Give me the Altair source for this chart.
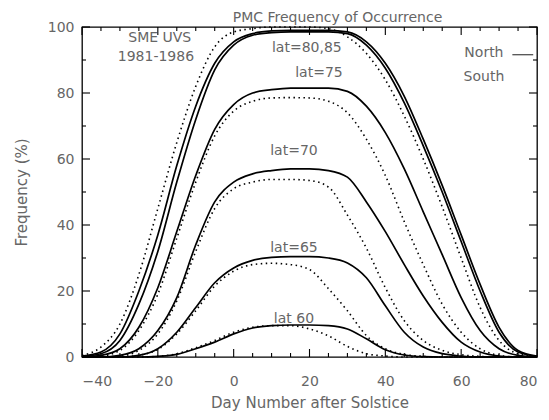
import altair as alt
import pandas as pd

# ---------------- data ----------------
days = [-40, -35, -30, -25, -20, -15, -10, -5, 0, 5, 10, 15, 20, 25,
        30, 35, 40, 45, 50, 55, 60, 65, 70, 75, 80]

north_85 = [0.3, 1.5, 7, 20, 37, 58, 76, 89, 95.5, 98, 98.8, 99, 99, 99,
            98.5, 95.5, 89, 79, 66, 52, 37, 22, 9, 2, 0.3]
north_80 = [0.2, 1, 5, 16, 32, 53, 72, 87, 94.5, 97.5, 98.3, 98.5, 98.5, 98.5,
            98, 94.5, 87.5, 77, 64, 50, 35, 20, 7.5, 1.5, 0.2]
south_85 = [0.5, 3, 10, 25, 45, 65, 82, 94, 98.5, 99.5, 100, 100, 100, 99.5,
            97, 92, 84, 73, 60, 45.5, 30, 15, 5, 1, 0.2]
north_75 = [0, 0.5, 2.5, 9, 21, 38, 55, 69, 76.5, 80, 81, 81.5, 81.5, 81.5,
            80.5, 76, 68, 57, 44, 31, 18, 8, 2.5, 0.5, 0]
south_75 = [0, 0.3, 2, 8, 19, 36, 53, 67, 74.5, 77.5, 78.5, 78.6, 78.5, 77.5,
            74, 66, 55, 41, 28, 16, 7.5, 2.5, 0.5, 0, 0]
north_70 = [0, 0, 0.5, 2.5, 8, 18, 34, 47, 53, 55.5, 56.5, 57, 57, 56.5,
            54.5, 47, 38, 28, 18.5, 10.5, 4.5, 1.5, 0.3, 0, 0]
south_70 = [0, 0, 0.3, 2, 7, 17, 32, 45, 51, 53, 53.8, 53.8, 53.5, 51.5,
            43, 33, 21, 11, 5, 2, 0.7, 0.2, 0, 0, 0]
north_65 = [0, 0, 0, 0.5, 2.5, 7.5, 15, 22.5, 27, 29.3, 30.2, 30.4, 30.4, 30,
            28.5, 24, 15.5, 7.5, 3, 1, 0.3, 0, 0, 0, 0]
south_65 = [0, 0, 0, 0.5, 2.3, 7, 14, 21.5, 26, 28, 28.4, 28, 26.5, 20.7,
            14, 6.5, 2.5, 0.8, 0.2, 0, 0, 0, 0, 0, 0]
north_60 = [0, 0, 0, 0, 0.2, 0.8, 2.5, 4.5, 7, 8.8, 9.5, 9.7, 9.7, 9.5,
            8.5, 5.5, 2.2, 0.6, 0.1, 0, 0, 0, 0, 0, 0]
south_60 = [0, 0, 0, 0, 0.2, 1, 2.8, 5, 7.5, 9, 9.5, 9.5, 8.5, 6.4,
            3.2, 1, 0.3, 0, 0, 0, 0, 0, 0, 0, 0]

north_series = {"N85": north_85, "N80": north_80, "N75": north_75,
                "N70": north_70, "N65": north_65, "N60": north_60}
south_series = {"S85": south_85, "S75": south_75, "S70": south_70,
                "S65": south_65, "S60": south_60}

label_text = ["lat=80,85", "lat=75", "lat=70", "lat=65", "lat 60",
              "SME UVS", "1981-1986", "North", "South"]
label_x = [19.3, 22.5, 15.9, 15.9, 15.9, -19.5, -20.5, 66.0, 66.0]
label_y = [93.5, 86.0, 62.4, 32.9, 11.5, 96.8, 91.0, 92.0, 84.7]

legend_key_x = [73.5, 79.0]
legend_key_y = [91.6, 91.6]

x_major = [-40, -20, 0, 20, 40, 60, 80]
x_minor = [v for v in range(-40, 81, 5) if v % 20 != 0]
y_major = [0, 20, 40, 60, 80, 100]
y_minor = [10, 30, 50, 70, 90]

# ---------------- tables ----------------
rows = []
for name, vals in north_series.items():
    for d, v in zip(days, vals):
        rows.append({"day": d, "freq": v, "series": name})
north_df = pd.DataFrame(rows)
rows = []
for name, vals in south_series.items():
    for d, v in zip(days, vals):
        rows.append({"day": d, "freq": v, "series": name})
south_df = pd.DataFrame(rows)

labels_df = pd.DataFrame({"text": label_text, "x": label_x, "y": label_y})
key_df = pd.DataFrame({"x": legend_key_x, "y": legend_key_y})

W, H = 455, 330
xs = alt.Scale(domain=[-40, 80], nice=False, zero=False)
ys = alt.Scale(domain=[0, 100], nice=False, zero=False)
TXT = "#666666"
FONT = "DejaVu Sans"

base_x = alt.X("day:Q", scale=xs,
               axis=alt.Axis(values=x_major, format="d", ticks=False, domain=False,
                             grid=False, labelFontSize=14, labelColor=TXT,
                             labelFont=FONT, labelPadding=17,
                             title="Day Number after Solstice", titleFontSize=15,
                             titleFont=FONT, titleFontWeight="normal",
                             titleColor=TXT, titlePadding=7))
base_y = alt.Y("freq:Q", scale=ys,
               axis=alt.Axis(values=y_major, format="d", ticks=False, domain=False,
                             grid=False, labelFontSize=14, labelColor=TXT,
                             labelFont=FONT, labelPadding=8,
                             title="Frequency (%)", titleFontSize=15,
                             titleFont=FONT, titleFontWeight="normal",
                             titleColor=TXT, titlePadding=18))

north = alt.Chart(north_df).mark_line(color="black", strokeWidth=1.7,
                                      interpolate="monotone").encode(
    x=base_x, y=base_y, detail="series:N")
south = alt.Chart(south_df).mark_line(color="black", strokeWidth=1.6,
                                      strokeDash=[1.5, 3.5],
                                      interpolate="monotone").encode(
    x=alt.X("day:Q", scale=xs), y=alt.Y("freq:Q", scale=ys), detail="series:N")

texts = alt.Chart(labels_df).mark_text(font=FONT, fontSize=14, color=TXT).encode(
    x=alt.X("x:Q", scale=xs), y=alt.Y("y:Q", scale=ys), text="text:N")

key = alt.Chart(key_df).mark_line(color="#444", strokeWidth=1.2).encode(
    x=alt.X("x:Q", scale=xs), y=alt.Y("y:Q", scale=ys))


def tick_layer(vals, orient, length):
    df = pd.DataFrame({"v": vals})
    c = alt.Chart(df).mark_rule(color="black", strokeWidth=1.1)
    if orient == "bottom":
        return c.encode(x=alt.X("v:Q", scale=xs), y=alt.value(H), y2=alt.value(H - length))
    if orient == "top":
        return c.encode(x=alt.X("v:Q", scale=xs), y=alt.value(0), y2=alt.value(length))
    if orient == "left":
        return c.encode(y=alt.Y("v:Q", scale=ys), x=alt.value(0), x2=alt.value(length))
    return c.encode(y=alt.Y("v:Q", scale=ys), x=alt.value(W), x2=alt.value(W - length))


ticks = [tick_layer(x_major, o, 8) for o in ("bottom", "top")] + \
        [tick_layer(x_minor, o, 4) for o in ("bottom", "top")] + \
        [tick_layer(y_major, o, 8) for o in ("left", "right")] + \
        [tick_layer(y_minor, o, 4) for o in ("left", "right")]

chart = alt.layer(north, south, texts, key, *ticks).properties(
    width=W, height=H,
    autosize=alt.AutoSizeParams(type="none"),
    padding={"left": 74, "top": 19, "right": 4, "bottom": 55},
    title=alt.TitleParams("PMC Frequency of Occurrence", fontSize=14, font=FONT,
                          fontWeight="normal", color=TXT, anchor="middle",
                          offset=1, dx=28, dy=6),
).configure_view(stroke="black", strokeWidth=1.3)

chart.save("out.html", embed_options={"renderer": "svg", "actions": False})
